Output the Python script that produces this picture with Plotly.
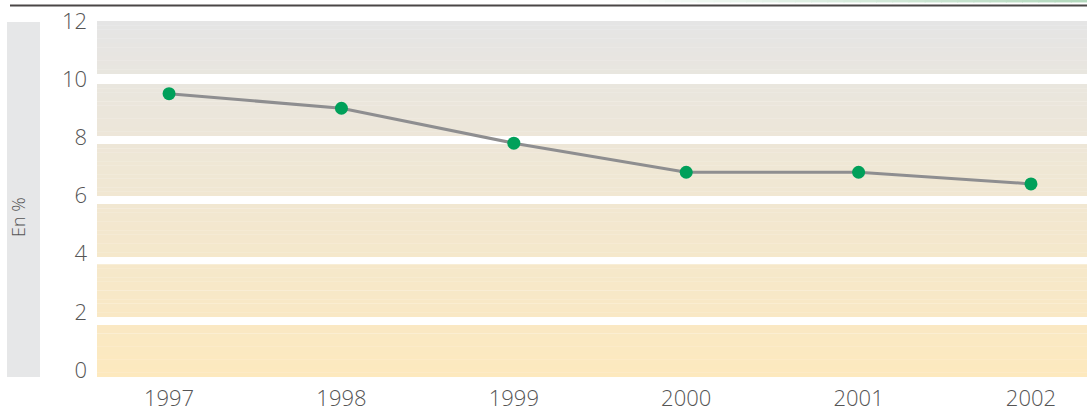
import plotly.graph_objects as go

years = [1997, 1998, 1999, 2000, 2001, 2002]
values = [9.5, 9.0, 7.8, 6.8, 6.8, 6.4]
ytick_vals = [0, 2, 4, 6, 8, 10, 12]
ytick_text = ["0", "2", "4", "6", "8", "10", "12"]
y_label = "En %"

# band edges (data units)
band_edges = [(-0.24, 1.55), (1.82, 3.64), (3.89, 5.71), (5.98, 7.77), (8.05, 9.83), (10.18, 12.0)]

FONT = "Open Sans"
TXT = "#555555"

def lerp(c1, c2, t):
    return tuple(int(round(a + (b - a) * t)) for a, b in zip(c1, c2))

top_c = (229, 229, 229)
bot_c = (253, 233, 190)

shapes = []
# gradient bands
for lo, hi in band_edges:
    n = 12
    step = (hi - lo) / n
    for i in range(n):
        y0 = lo + i * step
        y1 = y0 + step
        t = 1 - ((y0 + y1) / 2 + 0.24) / 12.24
        c = lerp(top_c, bot_c, t)
        shapes.append(dict(type="rect", xref="paper", yref="y", x0=0, x1=1,
                           y0=y0, y1=min(hi, y1 + step * 0.05), line=dict(width=0),
                           fillcolor="rgb(%d,%d,%d)" % c, layer="below"))

# left grey box
shapes.append(dict(type="rect", xref="paper", yref="paper",
                   x0=(7 - 97) / 990, x1=(40 - 97) / 990, y0=0, y1=(377 - 22) / 356,
                   line=dict(width=0), fillcolor="#e6e7e8", layer="below"))
# top dark rule
shapes.append(dict(type="line", xref="paper", yref="paper",
                   x0=(10 - 97) / 990, x1=1.0, y0=(377 - 5.5) / 356, y1=(377 - 5.5) / 356,
                   line=dict(color="#4a4646", width=2)))
# top green gradient rule
nseg = 30
g_start, g_end = 600, 1087
for i in range(nseg):
    xa = g_start + (g_end - g_start) * i / nseg
    xb = g_start + (g_end - g_start) * (i + 1) / nseg + 1
    c = lerp((255, 255, 255), (178, 216, 188), (i + 0.5) / nseg)
    shapes.append(dict(type="line", xref="paper", yref="paper",
                       x0=(xa - 97) / 990, x1=(xb - 97) / 990,
                       y0=(377 - 1.2) / 356, y1=(377 - 1.2) / 356,
                       line=dict(color="rgb(%d,%d,%d)" % c, width=2.5)))

fig = go.Figure()
fig.add_trace(go.Scatter(
    x=years, y=values, mode="lines+markers",
    line=dict(color="#8e8e90", width=3),
    marker=dict(color="#00a05a", size=13, line=dict(width=0)),
    showlegend=False, hoverinfo="skip", cliponaxis=False,
))

fig.update_layout(
    width=1087, height=407,
    margin=dict(l=97, r=0, t=21, b=30, autoexpand=False),
    paper_bgcolor="white", plot_bgcolor="white",
    shapes=shapes,
    font=dict(family=FONT, size=22, color=TXT, weight=300),
    xaxis=dict(range=[1996.582, 2002.325], tickvals=years, ticktext=[str(y) for y in years],
               showgrid=False, zeroline=False, showline=False, ticks="", automargin=False,
               tickfont=dict(family=FONT, size=22, color=TXT, weight=300),
               ticklabelstandoff=6, fixedrange=True),
    yaxis=dict(range=[-0.24, 12.0], tickvals=ytick_vals, ticktext=ytick_text,
               showgrid=False, zeroline=False, showline=False, ticks="", automargin=False,
               tickfont=dict(family=FONT, size=22, color=TXT, weight=300),
               ticklabelstandoff=9, fixedrange=True),
    annotations=[dict(text=y_label, xref="paper", yref="paper",
                      x=(18 - 97) / 990, y=(377 - 217) / 356, showarrow=False,
                      textangle=-90, xanchor="center", yanchor="middle",
                      font=dict(family=FONT, size=18, color=TXT, weight=300))],
)

fig.write_html("out.html", config={"displayModeBar": False},
               post_script="document.body.style.margin='0';document.body.style.overflow='hidden';")
